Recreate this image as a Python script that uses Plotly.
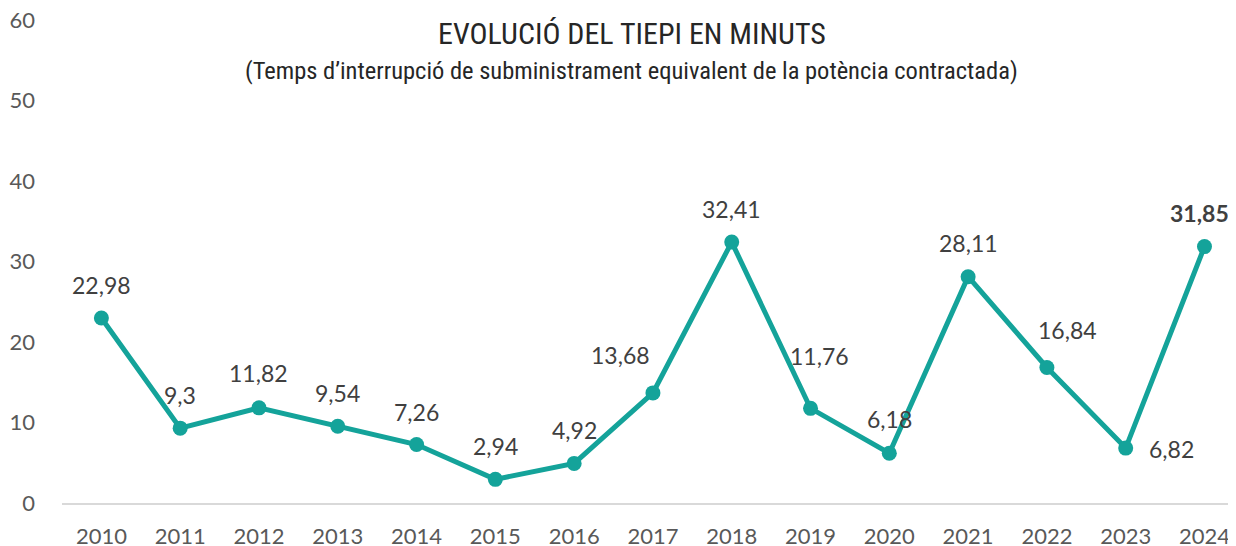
import plotly.graph_objects as go

years = [str(y) for y in range(2010, 2025)]
tiepi = [22.98, 9.3, 11.82, 9.54, 7.26, 2.94, 4.92, 13.68, 32.41, 11.76, 6.18, 28.11, 16.84, 6.82, 31.85]
labels = ["22,98", "9,3", "11,82", "9,54", "7,26", "2,94", "4,92", "13,68", "32,41",
          "11,76", "6,18", "28,11", "16,84", "6,82", "<b>31,85</b>"]
y_ticks = [0, 10, 20, 30, 40, 50, 60]

LINE = "#14a39a"
TXT = "#404040"
TICK = "#595959"
NUM_FONT = "Lato, Calibri, sans-serif"
TITLE_FONT = "Liberation Sans Narrow, Roboto Condensed, Arial Narrow, sans-serif"

fig = go.Figure()
fig.add_trace(go.Scatter(
    x=years, y=tiepi, mode="lines+markers",
    line=dict(color=LINE, width=5),
    marker=dict(color=LINE, size=15),
    hoverinfo="x+y",
))

# etiquetes de dades: desplaçament (px) respecte del punt, com a l'original
shifts = {2: (0, 35), 7: (-32, 38), 9: (9, 52), 10: (0, 34), 11: (0, 34),
          12: (21, 37), 13: (46, -1), 14: (-5, 34)}
for i, (v, lab) in enumerate(zip(tiepi, labels)):
    dx, dy = shifts.get(i, (0, 33))
    fig.add_annotation(x=i, y=v, text=lab, showarrow=False, xshift=dx, yshift=dy,
                       font=dict(family=NUM_FONT, size=23, color=TXT))

fig.add_annotation(xref="paper", yref="paper", x=0.4855, y=0.973, yanchor="middle",
                   text="EVOLUCIÓ DEL TIEPI EN MINUTS",
                   showarrow=False, font=dict(family=TITLE_FONT, size=30, color="#262626"))
fig.add_annotation(xref="paper", yref="paper", x=0.4855, y=0.896, yanchor="middle",
                   text="(Temps d’interrupció de subministrament equivalent de la potència contractada)",
                   showarrow=False, font=dict(family=TITLE_FONT, size=24.5, color="#262626"))

# la pàgina HTML té 8 px de marge al body: la figura és 8 px més petita
fig.update_layout(
    width=1228, height=538,
    margin=dict(l=54, r=0, t=12, b=43),
    paper_bgcolor="white", plot_bgcolor="white",
    showlegend=False,
    font=dict(family=NUM_FONT, size=22, color=TICK),
)
fig.update_xaxes(
    type="category", range=[-0.5, 14.4], automargin=False,
    showgrid=False, showline=True, linecolor="#d9d9d9", linewidth=2,
    ticks="", ticklabelstandoff=13,
    tickfont=dict(family=NUM_FONT, size=22, color=TICK),
)
fig.update_yaxes(
    range=[0, 60], tickvals=y_ticks, showgrid=False, zeroline=False, showline=False,
    ticks="", ticklabelstandoff=26, automargin=False, ticklabeloverflow="allow",
    tickfont=dict(family=NUM_FONT, size=22, color=TICK),
)

fig.write_html("out.html")
